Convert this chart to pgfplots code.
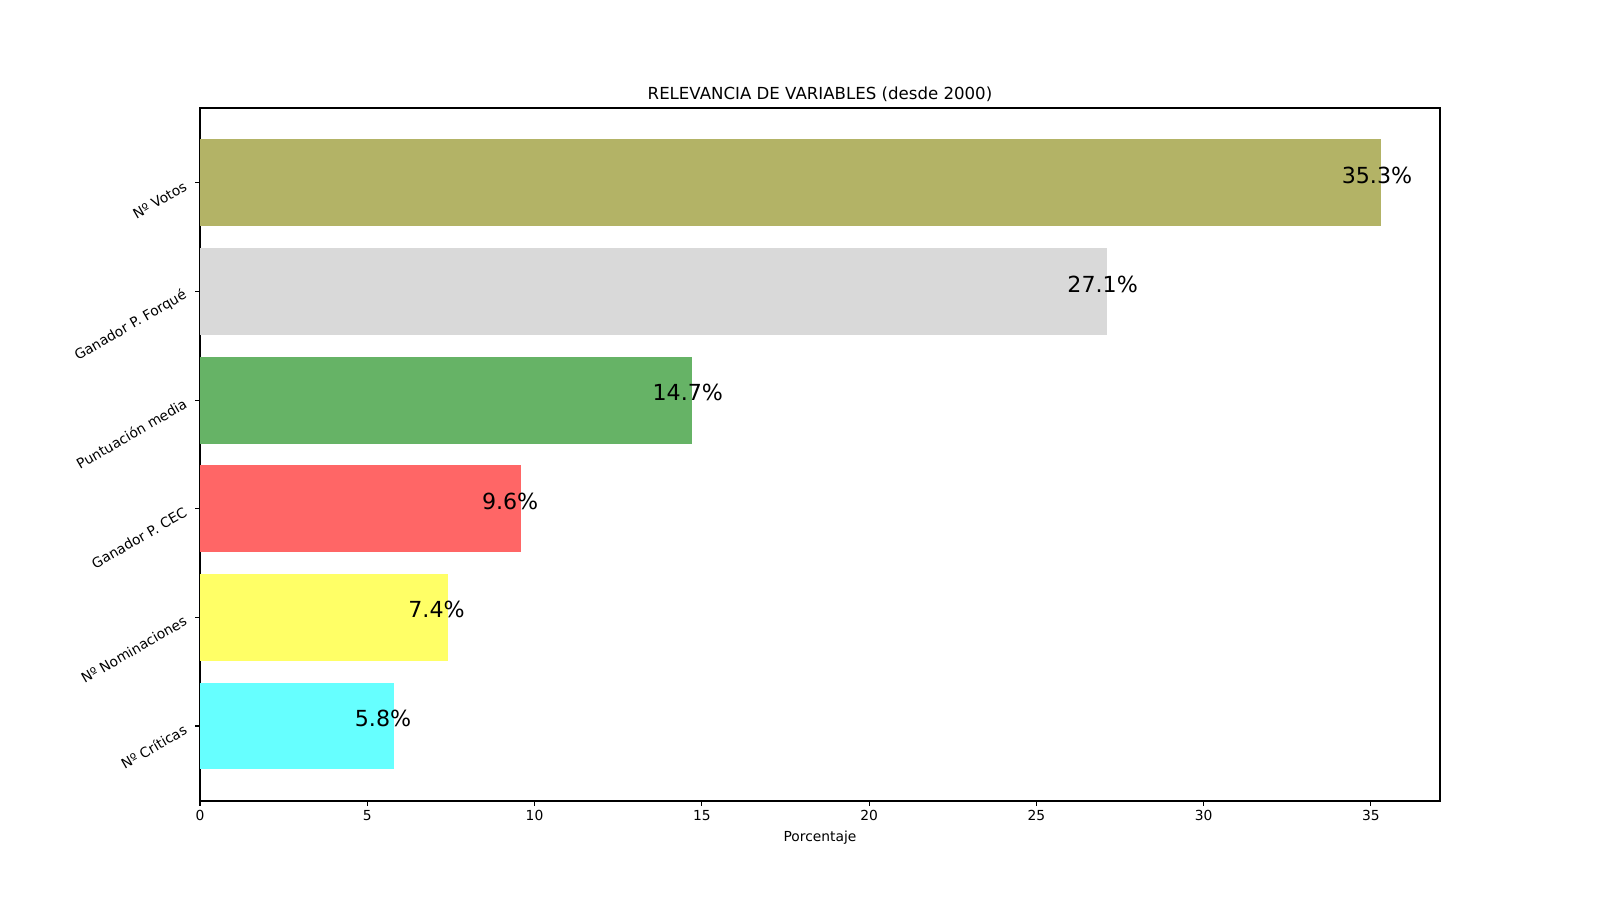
\documentclass[border=0pt]{standalone}
\usepackage{fontspec}
\setmainfont{DejaVu Sans}
\usepackage{pgfplots}
\pgfplotsset{compat=1.18}
\definecolor{colive}{RGB}{179,179,102}
\definecolor{csilver}{RGB}{217,217,217}
\definecolor{cgreen}{RGB}{102,179,102}
\definecolor{cred}{RGB}{255,102,102}
\definecolor{cyellow}{RGB}{255,255,102}
\definecolor{ccyan}{RGB}{102,255,255}
\begin{document}
\begin{tikzpicture}
\begin{axis}[
  at={(2in,0.99in)}, anchor=south west, scale only axis,
  width=12.4in, height=6.93in,
  xmin=0, xmax=37.065, ymin=-0.69, ymax=5.69,
  xbar, bar width=0.8, bar shift=0pt,
  xtick={0,5,...,35}, ytick={0,1,2,3,4,5},
  yticklabels={Nº Críticas, Nº Nominaciones, Ganador P. CEC, Puntuación media, Ganador P. Forqué, Nº Votos},
  tick align=outside, xtick pos=bottom, ytick pos=left,
  major tick length=3.5pt,
  every tick/.style={black, line width=0.8pt},
  axis line style={line width=0.8pt},
  /pgf/number format/assume math mode=true,
  tick label style={font=\fontsize{10}{12}\selectfont},
  yticklabel style={rotate=30, anchor=east, xshift=-3.5pt, yshift=2pt},
  xlabel={Porcentaje},
  xlabel style={font=\fontsize{10}{12}\selectfont},
  title={RELEVANCIA DE VARIABLES (desde 2000)},
  title style={font=\fontsize{12}{14}\selectfont, at={(0.5,1)}, anchor=south, inner sep=0pt, yshift=-2pt},
  point meta=explicit symbolic,
  nodes near coords={\pgfplotspointmeta\%},
  nodes near coords style={font=\fontsize{16}{19}\selectfont, anchor=west, inner sep=0pt, xshift=-28.5pt, yshift=5.5pt, black},
]
\addplot[fill=colive, draw=none] coordinates {(35.3,5) [35.3]};
\addplot[fill=csilver, draw=none] coordinates {(27.1,4) [27.1]};
\addplot[fill=cgreen, draw=none] coordinates {(14.7,3) [14.7]};
\addplot[fill=cred, draw=none] coordinates {(9.6,2) [9.6]};
\addplot[fill=cyellow, draw=none] coordinates {(7.4,1) [7.4]};
\addplot[fill=ccyan, draw=none] coordinates {(5.8,0) [5.8]};
\end{axis}
\pgfresetboundingbox
\useasboundingbox (0,0) rectangle (16in,9in);
\end{tikzpicture}
\end{document}
